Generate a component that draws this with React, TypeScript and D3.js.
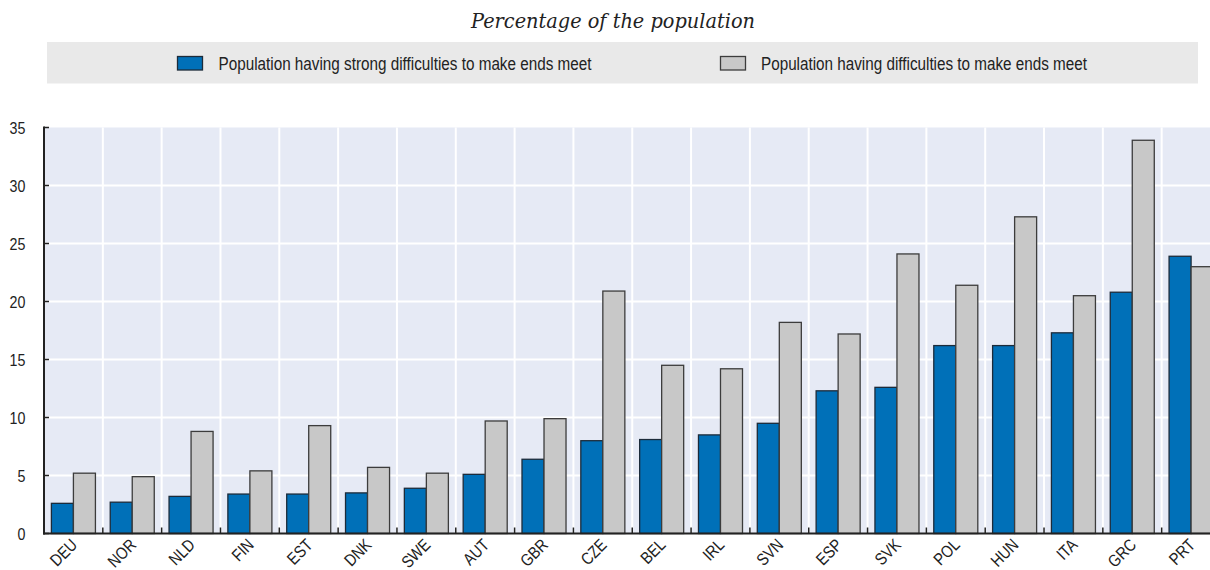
import { useEffect } from "react";
import * as d3 from "d3";

const countries = ["DEU", "NOR", "NLD", "FIN", "EST", "DNK", "SWE", "AUT", "GBR", "CZE", "BEL", "IRL", "SVN", "ESP", "SVK", "POL", "HUN", "ITA", "GRC", "PRT"];
const strongDifficulties = [2.6, 2.7, 3.2, 3.4, 3.4, 3.5, 3.9, 5.1, 6.4, 8.0, 8.1, 8.5, 9.5, 12.3, 12.6, 16.2, 16.2, 17.3, 20.8, 23.9];
const difficulties = [5.2, 4.9, 8.8, 5.4, 9.3, 5.7, 5.2, 9.7, 9.9, 20.9, 14.5, 14.2, 18.2, 17.2, 24.1, 21.4, 27.3, 20.5, 33.9, 23.0];
const yTicks = [0, 5, 10, 15, 20, 25, 30, 35];
const seriesNames = ["Population having strong difficulties to make ends meet", "Population having difficulties to make ends meet"];
const title = "Percentage of the population";

const W = 1210;
const H = 570;
const sans = "'Liberation Sans', Arial, sans-serif";

export default function App() {
  useEffect(() => {
    document.body.style.margin = "0";
  }, []);

  const left = 44;
  const right = 1220.5;
  const x = d3.scaleBand<string>().domain(countries).range([left, right]).paddingInner(0).paddingOuter(0);
  const y = d3.scaleLinear().domain([0, 35]).range([533.5, 127.5]);
  const inner = d3.scaleBand<number>().domain([0, 1]).range([7.4, x.bandwidth() - 7.4]);
  const series = [strongDifficulties, difficulties];
  const fills = ["#0070b8", "#c8c8c8"];
  const strokes = ["#1c2b3a", "#3c3c3c"];

  return (
    <svg width={W} height={H} style={{ display: "block", background: "#fff" }}>
      {/* title */}
      <text x={613} y={28} textAnchor="middle" fontFamily="'DejaVu Serif', serif" fontStyle="italic" fontSize={21} fill="#222" textLength={284} lengthAdjust="spacingAndGlyphs">
        {title}
      </text>

      {/* legend */}
      <rect x={47} y={42} width={1151} height={41.5} fill="#e9e9e9" />
      {seriesNames.map((name, i) => {
        const sx = i === 0 ? 177.5 : 720.5;
        const tx = i === 0 ? 218.5 : 761;
        const tl = i === 0 ? 373 : 326;
        return (
          <g key={name}>
            <rect x={sx} y={56.5} width={25} height={13.5} fill={fills[i]} stroke={strokes[i]} strokeWidth={1.3} />
            <text x={tx} y={70} fontFamily={sans} fontSize={17.5} fill="#222" textLength={tl} lengthAdjust="spacingAndGlyphs">
              {name}
            </text>
          </g>
        );
      })}

      {/* plot background */}
      <rect x={left} y={y(35)} width={right - left} height={y(0) - y(35)} fill="#e6eaf5" />
      {yTicks.slice(1, -1).map((t) => (
        <line key={t} x1={left} x2={W} y1={y(t)} y2={y(t)} stroke="#fff" strokeWidth={2} />
      ))}
      {countries.slice(1).map((c) => (
        <line key={c} x1={x(c)!} x2={x(c)!} y1={y(35)} y2={y(0)} stroke="#fff" strokeWidth={2} />
      ))}

      {/* bars */}
      {countries.map((c, ci) =>
        series.map((s, si) => (
          <rect
            key={c + si}
            x={x(c)! + inner(si)!}
            y={y(s[ci])}
            width={inner.bandwidth()}
            height={y(0) - y(s[ci])}
            fill={fills[si]}
            stroke={strokes[si]}
            strokeWidth={1.3}
          />
        ))
      )}

      {/* axes */}
      <line x1={left} x2={left} y1={y(35) - 1} y2={y(0) + 1} stroke="#222" strokeWidth={2} />
      {yTicks.map((t) => (
        <g key={t}>
          <line x1={left} x2={left + 5} y1={y(t)} y2={y(t)} stroke="#222" strokeWidth={1.5} />
          <text transform={`translate(25.5,${y(t) + 6}) scale(0.84,1)`} textAnchor="end" fontFamily={sans} fontSize={17} fill="#222">
            {t}
          </text>
        </g>
      ))}
      <line x1={left - 1} x2={W} y1={y(0)} y2={y(0)} stroke="#222" strokeWidth={2} />
      {countries.slice(1).map((c) => (
        <line key={c} x1={x(c)!} x2={x(c)!} y1={y(0)} y2={y(0) - 6} stroke="#222" strokeWidth={1.5} />
      ))}
      {countries.map((c) => (
        <text
          key={c}
          transform={`translate(${x(c)! + x.bandwidth() / 2 + 5},546) rotate(-45) scale(0.84,1)`}
          textAnchor="end"
          fontFamily={sans}
          fontSize={17}
          fill="#222"
        >
          {c}
        </text>
      ))}
    </svg>
  );
}
